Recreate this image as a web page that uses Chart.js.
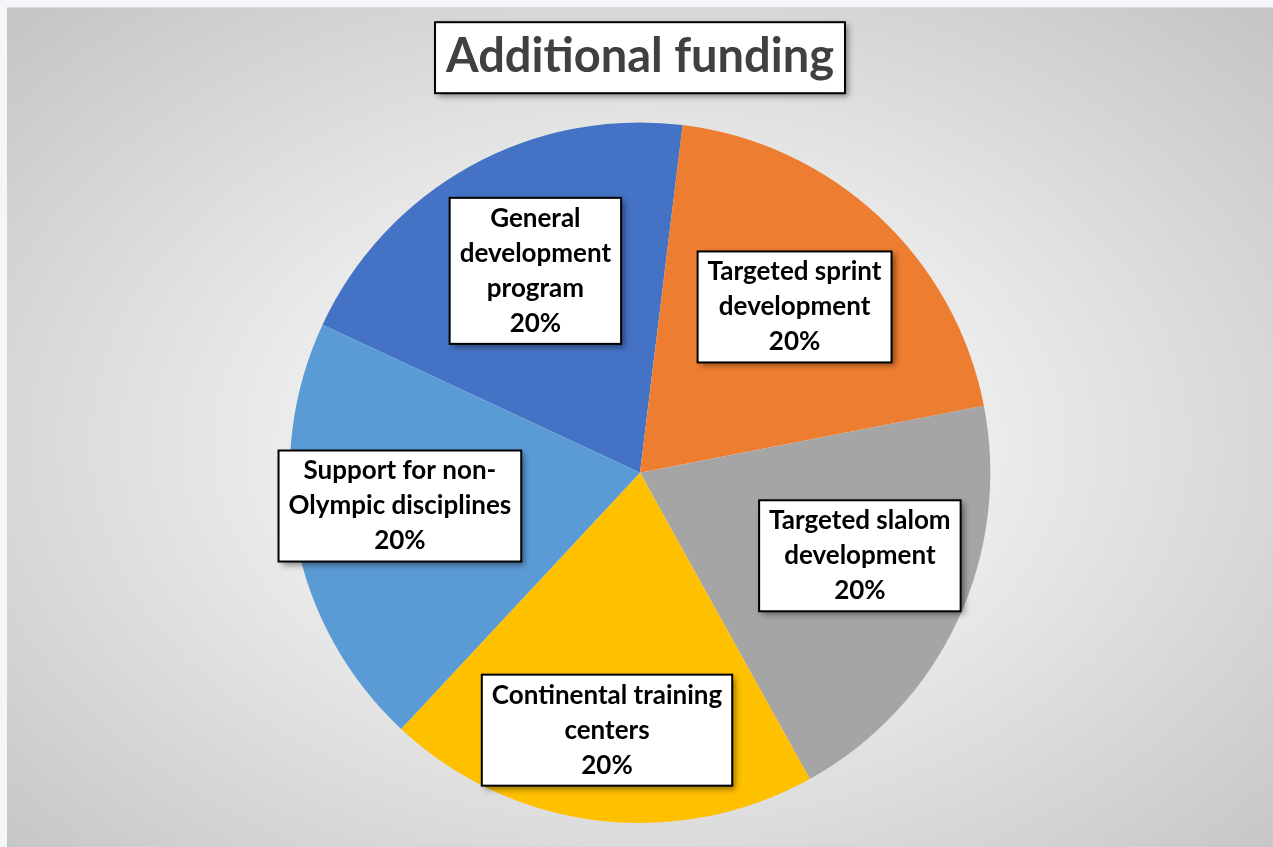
<!DOCTYPE html>
<html>
<head>
<meta charset="utf-8">
<script src="https://cdn.jsdelivr.net/npm/chart.js@4"></script>
<style>
    body { margin: 0; background: #f5f6f9; }
    #quadro {
        position: absolute; left: 7px; top: 7px; width: 1266px; height: 839px;
        border-top: 1px solid #d9d9dd;
        background: radial-gradient(ellipse farthest-corner at 50% 52%, #ffffff 0%, #f3f3f3 28%, #c4c4c4 100%);
    }
</style>
</head>
<body>
<div id="quadro"><canvas id="graficoVerba"></canvas></div>
<script>
// dados do gráfico
const categorias = [
    ['General', 'development', 'program'],
    ['Targeted sprint', 'development'],
    ['Targeted slalom', 'development'],
    ['Continental training', 'centers'],
    ['Support for non-', 'Olympic disciplines']
];
const valores = [20, 20, 20, 20, 20];
const cores = ['#4472C4', '#ED7D31', '#A5A5A5', '#FFC000', '#5B9BD5'];
const titulo = 'Additional funding';

const fonte = 'Lato, "Open Sans", sans-serif';

// onde o usuario arrastou cada rotulo no excel: fração do raio e desvio do angulo (graus)
const distRotulos = [0.649, 0.647, 0.671, 0.741, 0.692];
const desvioRotulos = [1.6, 0, -4.3, 0.3, 3.1];

function caixa(ctx, x, y, w, h) {
    ctx.save();
    ctx.shadowColor = 'rgba(0,0,0,0.45)';
    ctx.shadowBlur = 6;
    ctx.shadowOffsetX = 3;
    ctx.shadowOffsetY = 3;
    ctx.fillStyle = '#ffffff';
    ctx.fillRect(x, y, w, h);
    ctx.restore();
    ctx.save();
    ctx.strokeStyle = '#000000';
    ctx.lineWidth = 2;
    ctx.strokeRect(x, y, w, h);
    ctx.restore();
}

const pluginCaixaTitulo = {
    id: 'caixaTitulo',
    beforeDraw(chart) {
        const ctx = chart.ctx;
        const t = chart.titleBlock;
        const opt = chart.options.plugins.title;
        ctx.save();
        ctx.font = `bold ${opt.font.size}px ${fonte}`;
        const larg = ctx.measureText(opt.text).width;
        ctx.restore();
        const cx = (chart.chartArea.left + chart.chartArea.right) / 2;
        const meioY = t.top + opt.padding.top + opt.font.size * 1.2 / 2;
        caixa(ctx, cx - larg / 2 - 11, meioY - 35, larg + 22, 71);
    }
};

const pluginRotulos = {
    id: 'rotulos',
    afterDatasetsDraw(chart) {
        const ctx = chart.ctx;
        const meta = chart.getDatasetMeta(0);
        const total = valores.reduce((a, b) => a + b, 0);
        const tam = 26;
        const alturaLinha = 35;
        ctx.save();
        ctx.font = `bold ${tam}px ${fonte}`;
        meta.data.forEach(function (arco, i) {
            const p = arco.getProps(['x', 'y', 'startAngle', 'endAngle', 'outerRadius'], true);
            const ang = (p.startAngle + p.endAngle) / 2 + desvioRotulos[i] * Math.PI / 180;
            const r = p.outerRadius * distRotulos[i];
            const x = p.x + Math.cos(ang) * r;
            const y = p.y + Math.sin(ang) * r;

            const linhas = categorias[i].slice();
            linhas.push(Math.round(valores[i] / total * 100) + '%');
            let larg = 0;
            for (let j = 0; j < linhas.length; j++) {
                larg = Math.max(larg, ctx.measureText(linhas[j]).width);
            }
            const w = larg + 20;
            const h = linhas.length * alturaLinha + 6;
            caixa(ctx, x - w / 2, y - h / 2, w, h);

            ctx.fillStyle = '#000000';
            ctx.textAlign = 'center';
            ctx.textBaseline = 'middle';
            for (let j = 0; j < linhas.length; j++) {
                ctx.fillText(linhas[j], x, y - h / 2 + 3 + alturaLinha * (j + 0.5));
            }
        });
        ctx.restore();
    }
};

new Chart(document.getElementById('graficoVerba'), {
    type: 'pie',
    data: {
        labels: categorias,
        datasets: [{
            data: valores,
            backgroundColor: cores,
            borderWidth: 0
        }]
    },
    options: {
        responsive: true,
        maintainAspectRatio: false,
        animation: false,
        rotation: -65,
        layout: {
            padding: { top: 0, bottom: 24, left: 0, right: 0 }
        },
        plugins: {
            legend: { display: false },
            tooltip: { enabled: false },
            title: {
                display: true,
                text: titulo,
                color: '#404040',
                font: { family: fonte, size: 47, weight: 'bold' },
                padding: { top: 21, bottom: 37 }
            }
        }
    },
    plugins: [pluginCaixaTitulo, pluginRotulos]
});
</script>
</body>
</html>
